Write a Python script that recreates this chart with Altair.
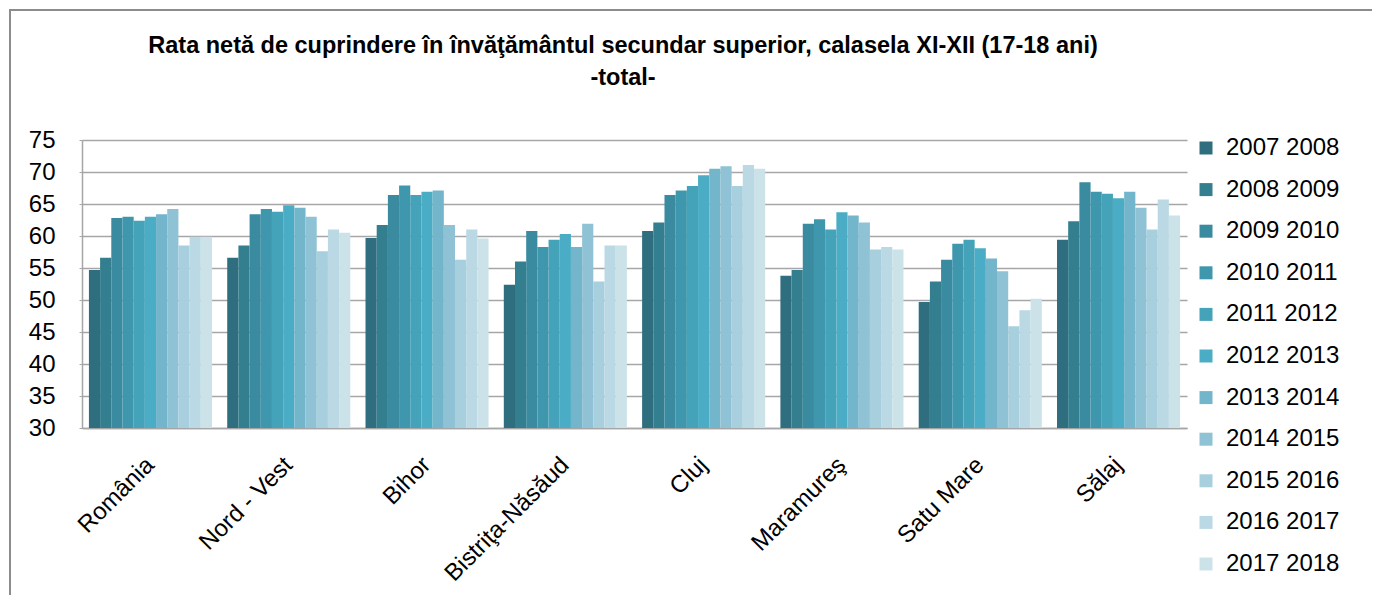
import altair as alt
import pandas as pd

categories = ["România", "Nord - Vest", "Bihor", "Bistriţa-Năsăud", "Cluj", "Maramureş", "Satu Mare", "Sălaj"]
years = ["2007 2008", "2008 2009", "2009 2010", "2010 2011", "2011 2012", "2012 2013",
         "2013 2014", "2014 2015", "2015 2016", "2016 2017", "2017 2018"]

romania = [54.7, 56.6, 62.8, 63.0, 62.4, 63.0, 63.4, 64.2, 58.5, 59.9, 59.9]
nord_vest = [56.6, 58.5, 63.4, 64.2, 63.8, 64.8, 64.4, 63.0, 57.6, 61.0, 60.5]
bihor = [59.7, 61.7, 66.4, 67.9, 66.4, 66.9, 67.1, 61.7, 56.3, 61.0, 59.6]
bistrita = [52.4, 56.0, 60.8, 58.3, 59.4, 60.3, 58.3, 61.9, 52.9, 58.5, 58.5]
cluj = [60.8, 62.1, 66.4, 67.1, 67.8, 69.5, 70.5, 70.9, 67.8, 71.1, 70.5]
maramures = [53.8, 54.7, 61.9, 62.6, 61.0, 63.7, 63.2, 62.1, 57.9, 58.3, 57.9]
satu_mare = [49.7, 52.9, 56.3, 58.8, 59.4, 58.1, 56.5, 54.5, 45.9, 48.4, 50.2]
salaj = [59.4, 62.3, 68.4, 66.9, 66.6, 65.9, 66.9, 64.4, 61.0, 65.7, 63.2]

colors = ["#2e6e7e", "#337e8f", "#3a8aa0", "#3f97ad", "#44a2b9", "#4badc5",
          "#73b6cc", "#8fc2d4", "#a7cfde", "#bad9e4", "#cce2e9"]

title_lines = ["Rata netă de cuprindere în învăţământul secundar superior, calasela XI-XII (17-18 ani)",
               "-total-"]

series = [romania, nord_vest, bihor, bistrita, cluj, maramures, satu_mare, salaj]
rows = []
for cat, vals in zip(categories, series):
    for yr, v in zip(years, vals):
        rows.append({"cat": cat, "year": yr, "value": v})
df = pd.DataFrame(rows)

W, H = 1105, 288
FONT = "Liberation Sans"

bars = alt.Chart(df).mark_bar(clip=True).encode(
    x=alt.X("cat:N", sort=categories, title=None,
            scale=alt.Scale(paddingInner=0.11, paddingOuter=0.05),
            axis=alt.Axis(labelAngle=-45, labelAlign="right", labelBaseline="middle",
                          labelFontSize=24, labelFont=FONT, labelColor="#000000",
                          labelPadding=33, ticks=False, domainColor="#a6a6a6",
                          domainWidth=1.5, grid=False)),
    xOffset=alt.XOffset("year:N", sort=years, scale=alt.Scale(paddingInner=0, paddingOuter=0)),
    y=alt.Y("value:Q", title=None,
            scale=alt.Scale(domain=[30, 75], nice=False, zero=False),
            axis=alt.Axis(values=list(range(30, 80, 5)), labelFontSize=24, labelFont=FONT,
                          labelColor="#000000", labelPadding=24, tickSize=3,
                          tickColor="#a6a6a6", domainColor="#a6a6a6", domainWidth=1.5,
                          gridColor="#a6a6a6", gridWidth=1.5)),
    color=alt.Color("year:N", sort=years,
                    scale=alt.Scale(domain=years, range=colors),
                    legend=alt.Legend(title=None, orient="none", legendX=1112, legendY=-4,
                                      symbolType="square", symbolSize=169,
                                      symbolStrokeWidth=0, labelFontSize=24,
                                      labelFont=FONT, labelColor="#000000",
                                      rowPadding=17.6, labelOffset=8)),
)

one = pd.DataFrame({"a": [0]})
frame = alt.Chart(one).mark_rect(fill=None, stroke="#8c8c8c", strokeWidth=2).encode(
    x=alt.value(-72), x2=alt.value(1320), y=alt.value(-130), y2=alt.value(480)
)

title_df = pd.DataFrame({"t": ["\n".join(title_lines)]})
title = alt.Chart(title_df).mark_text(
    font=FONT, fontSize=23.5, fontWeight="bold", color="#000000",
    align="center", baseline="top", lineBreak="\n", lineHeight=32
).encode(x=alt.value(541), y=alt.value(-106), text="t:N")

chart = alt.layer(frame, title, bars).properties(
    width=W, height=H,
    autosize=alt.AutoSizeParams(type="none"),
    padding={"left": 74, "top": 132, "right": 185, "bottom": 167},
).configure_view(stroke=None)

chart.save("out.html", embed_options={"renderer": "svg", "actions": False})
